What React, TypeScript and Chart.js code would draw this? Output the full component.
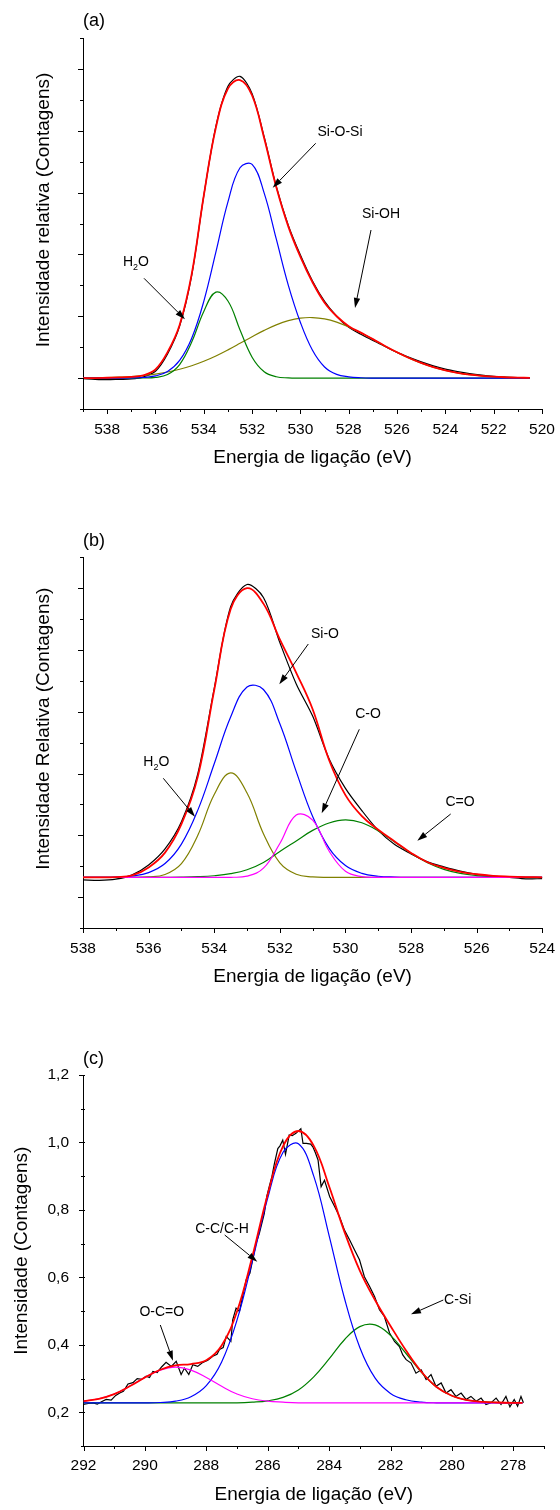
import React, { useEffect, useRef } from "react";
import { Chart, registerables } from "chart.js";

Chart.register(...registerables);

const FONT = "'Liberation Sans', Arial, Helvetica, sans-serif";

const RED = "#ff0000";
const BLUE = "#0000ff";
const GREEN = "#008000";
const OLIVE = "#808000";
const MAGENTA = "#ff00ff";
const BLACK = "#000000";

// ---------------- Panel (a) ----------------
const aEnergy = [539, 538.5, 538, 537.5, 537, 536.5, 536, 535.5, 535, 534.5, 534, 533.5, 533, 532.5, 532, 531.5, 531, 530.5, 530, 529.5, 529, 528.5, 528, 527.5, 527, 526.5, 526, 525.5, 525, 524.5, 524, 523.5, 523, 522.5, 522, 521.5, 521, 520.5];
const aMeasured = [-0.01, -0.02, -0.025, -0.02, -0.015, 0.02, 0.11, 0.39, 0.84, 1.66, 2.95, 4.07, 4.72, 4.88, 4.6, 3.9, 3.1, 2.47, 1.99, 1.57, 1.24, 1.0, 0.82, 0.71, 0.61, 0.51, 0.415, 0.335, 0.262, 0.198, 0.145, 0.105, 0.072, 0.047, 0.028, 0.016, 0.009, 0.004];
const aEnvelope = [0.0, 0.0, 0.005, 0.01, 0.02, 0.045, 0.14, 0.42, 0.86, 1.68, 2.95, 4.05, 4.68, 4.82, 4.57, 3.88, 3.09, 2.45, 1.96, 1.55, 1.22, 1.0, 0.84, 0.735, 0.63, 0.52, 0.418, 0.325, 0.245, 0.177, 0.125, 0.085, 0.056, 0.036, 0.022, 0.013, 0.007, 0.004];
const aSiOSi = [0, 0, 0, 0, 0.002, 0.009, 0.035, 0.107, 0.285, 0.644, 1.241, 2.037, 2.851, 3.401, 3.455, 2.992, 2.25, 1.5, 0.9, 0.45, 0.18, 0.06, 0.02, 0.005, 0, 0, 0, 0, 0, 0, 0, 0, 0, 0, 0, 0, 0, 0];
const aH2O = [0, 0, 0, 0, 0, 0.001, 0.01, 0.057, 0.218, 0.582, 1.078, 1.39, 1.246, 0.778, 0.338, 0.102, 0.021, 0.003, 0, 0, 0, 0, 0, 0, 0, 0, 0, 0, 0, 0, 0, 0, 0, 0, 0, 0, 0, 0];
const aSiOH = [0.003, 0.005, 0.009, 0.016, 0.026, 0.042, 0.065, 0.098, 0.143, 0.2, 0.272, 0.358, 0.456, 0.562, 0.67, 0.772, 0.861, 0.929, 0.97, 0.979, 0.957, 0.905, 0.827, 0.732, 0.627, 0.519, 0.416, 0.323, 0.242, 0.175, 0.123, 0.084, 0.055, 0.035, 0.021, 0.013, 0.007, 0.004];
const aXTicks = [538, 536, 534, 532, 530, 528, 526, 524, 522, 520];
const aXMinor = [539, 537, 535, 533, 531, 529, 527, 525, 523, 521];

// ---------------- Panel (b) ----------------
const bEnergy = [538, 537.5, 537, 536.5, 536, 535.5, 535, 534.5, 534, 533.5, 533, 532.5, 532, 531.5, 531, 530.5, 530, 529.5, 529, 528.5, 528, 527.5, 527, 526.5, 526, 525.5, 525, 524.5, 524];
const bMeasured = [0.28, 0.27, 0.29, 0.36, 0.52, 0.78, 1.22, 2.0, 3.38, 4.7, 5.06, 4.85, 4.12, 3.45, 2.93, 2.24, 1.76, 1.4, 1.08, 0.85, 0.7, 0.57, 0.49, 0.42, 0.37, 0.34, 0.32, 0.295, 0.3];
const bEnvelope = [0.32, 0.32, 0.325, 0.35, 0.48, 0.72, 1.18, 1.95, 3.35, 4.66, 5.0, 4.75, 4.17, 3.63, 3.04, 2.22, 1.65, 1.31, 1.09, 0.9, 0.715, 0.565, 0.475, 0.41, 0.37, 0.345, 0.333, 0.325, 0.32];
const bSiO = [0.32, 0.321, 0.325, 0.342, 0.397, 0.543, 0.858, 1.408, 2.158, 2.914, 3.4, 3.36, 2.805, 2.031, 1.305, 0.793, 0.51, 0.384, 0.338, 0.324, 0.32, 0.32, 0.32, 0.32, 0.32, 0.32, 0.32, 0.32, 0.32];
const bH2O = [0.32, 0.32, 0.32, 0.32, 0.326, 0.367, 0.543, 1.002, 1.661, 2.01, 1.685, 1.027, 0.555, 0.37, 0.327, 0.32, 0.32, 0.32, 0.32, 0.32, 0.32, 0.32, 0.32, 0.32, 0.32, 0.32, 0.32, 0.32, 0.32];
const bCO = [0.32, 0.32, 0.32, 0.32, 0.32, 0.32, 0.32, 0.32, 0.32, 0.321, 0.34, 0.468, 0.867, 1.328, 1.247, 0.746, 0.418, 0.331, 0.32, 0.32, 0.32, 0.32, 0.32, 0.32, 0.32, 0.32, 0.32, 0.32, 0.32];
const bCdO = [0.32, 0.32, 0.32, 0.32, 0.32, 0.321, 0.323, 0.33, 0.346, 0.379, 0.442, 0.56, 0.74, 0.91, 1.08, 1.2, 1.25, 1.204, 1.071, 0.892, 0.709, 0.557, 0.449, 0.383, 0.348, 0.331, 0.324, 0.321, 0.32];
const bXTicks = [538, 536, 534, 532, 530, 528, 526, 524];
const bXMinor = [537, 535, 533, 531, 529, 527, 525];

const abYMajor = [0, 1, 2, 3, 4, 5];
const abYMinor = [-0.5, 0.5, 1.5, 2.5, 3.5, 4.5, 5.5];

// ---------------- Panel (c) ----------------
const cEnergy = [292, 291.5, 291, 290.5, 290, 289.5, 289, 288.5, 288, 287.5, 287, 286.5, 286, 285.5, 285, 284.5, 284, 283.5, 283, 282.5, 282, 281.5, 281, 280.5, 280, 279.5, 279, 278.5, 278, 277.7];
const cEnvelope = [0.233, 0.24, 0.254, 0.277, 0.303, 0.326, 0.339, 0.343, 0.354, 0.398, 0.499, 0.662, 0.846, 0.989, 1.034, 0.99, 0.87, 0.735, 0.62, 0.532, 0.456, 0.384, 0.321, 0.275, 0.249, 0.236, 0.231, 0.229, 0.228, 0.228];
const cCC = [0.228, 0.228, 0.228, 0.228, 0.228, 0.229, 0.233, 0.246, 0.279, 0.349, 0.473, 0.648, 0.835, 0.971, 0.996, 0.9, 0.724, 0.538, 0.392, 0.301, 0.256, 0.237, 0.23, 0.228, 0.228, 0.228, 0.228, 0.228, 0.228, 0.228];
const cCSi = [0.228, 0.228, 0.228, 0.228, 0.228, 0.228, 0.228, 0.228, 0.228, 0.228, 0.228, 0.23, 0.234, 0.244, 0.266, 0.305, 0.358, 0.415, 0.454, 0.459, 0.428, 0.375, 0.319, 0.275, 0.249, 0.236, 0.231, 0.229, 0.228, 0.228];
const cOCO = [0.233, 0.24, 0.254, 0.277, 0.303, 0.325, 0.334, 0.325, 0.303, 0.277, 0.254, 0.24, 0.233, 0.23, 0.228, 0.228, 0.228, 0.228, 0.228, 0.228, 0.228, 0.228, 0.228, 0.228, 0.228, 0.228, 0.228, 0.228, 0.228, 0.228];
const cMeasuredEnergy = [292.0, 291.85, 291.69, 291.55, 291.4, 291.26, 291.1, 290.95, 290.82, 290.7, 290.55, 290.39, 290.25, 290.1, 289.96, 289.85, 289.74, 289.6, 289.45, 289.31, 289.14, 288.98, 288.82, 288.71, 288.57, 288.44, 288.28, 288.11, 287.95, 287.79, 287.65, 287.57, 287.45, 287.35, 287.2, 287.14, 287.03, 286.92, 286.8, 286.7, 286.58, 286.49, 286.38, 286.27, 286.11, 286.03, 285.95, 285.86, 285.78, 285.67, 285.6, 285.51, 285.42, 285.3, 285.2, 285.08, 284.92, 284.85, 284.74, 284.6, 284.53, 284.45, 284.36, 284.26, 284.15, 283.98, 283.82, 283.66, 283.5, 283.33, 283.17, 283.01, 282.85, 282.68, 282.52, 282.36, 282.2, 282.03, 281.87, 281.71, 281.6, 281.49, 281.33, 281.17, 281.0, 280.84, 280.68, 280.52, 280.35, 280.19, 280.03, 279.87, 279.7, 279.54, 279.38, 279.21, 279.05, 278.89, 278.73, 278.56, 278.4, 278.24, 278.11, 277.97, 277.86, 277.75, 277.67];
const cMeasured = [0.223, 0.226, 0.228, 0.224, 0.232, 0.238, 0.236, 0.25, 0.257, 0.262, 0.284, 0.288, 0.3, 0.298, 0.307, 0.303, 0.321, 0.318, 0.335, 0.348, 0.336, 0.351, 0.312, 0.331, 0.312, 0.341, 0.336, 0.348, 0.354, 0.366, 0.372, 0.386, 0.392, 0.425, 0.41, 0.474, 0.509, 0.499, 0.55, 0.593, 0.612, 0.652, 0.7, 0.731, 0.79, 0.84, 0.869, 0.9, 0.938, 0.982, 0.99, 1.007, 0.965, 1.022, 1.02, 1.027, 1.041, 0.997, 0.997, 0.995, 0.987, 0.97, 0.948, 0.869, 0.888, 0.839, 0.81, 0.78, 0.74, 0.711, 0.681, 0.652, 0.602, 0.573, 0.543, 0.504, 0.484, 0.435, 0.41, 0.395, 0.37, 0.356, 0.346, 0.316, 0.326, 0.297, 0.312, 0.277, 0.287, 0.257, 0.267, 0.247, 0.257, 0.238, 0.247, 0.233, 0.242, 0.223, 0.228, 0.242, 0.223, 0.247, 0.216, 0.238, 0.218, 0.247, 0.228];
const cXTicks = [292, 290, 288, 286, 284, 282, 280, 278];
const cXMinor = [291, 289, 287, 285, 283, 281, 279, 277];
const cYTicks = [0.2, 0.4, 0.6, 0.8, 1.0, 1.2];
const cYTickLabels = ["0,2", "0,4", "0,6", "0,8", "1,0", "1,2"];
const cYMinor = [0.1, 0.3, 0.5, 0.7, 0.9, 1.1];

// ---------------- drawing helpers ----------------
type Ann = { text: string; x: number; y: number; arrow: [number, number, number, number] };

function series(xs: number[], ys: number[], color: string, width: number, order: number, tension: number) {
  return {
    data: xs.map((x, i) => ({ x, y: ys[i] })),
    borderColor: color,
    backgroundColor: color,
    borderWidth: width,
    pointRadius: 0,
    fill: false,
    tension,
    order,
  };
}

const decorPlugin = {
  id: "decor",
  afterDraw(chart: any, _args: any, o: any) {
    const ctx = chart.ctx as CanvasRenderingContext2D;
    const ca = chart.chartArea;
    const xs = chart.scales.x;
    const ys = chart.scales.y;
    ctx.save();
    ctx.strokeStyle = BLACK;
    ctx.fillStyle = BLACK;
    ctx.lineWidth = 1;
    ctx.beginPath();
    const bx = Math.round(ca.bottom);
    const lx = Math.round(ca.left);
    const tk = (vals: number[], len: number, horiz: boolean) => {
      for (const v of vals) {
        if (horiz) {
          const p = Math.round(xs.getPixelForValue(v)) + 0.5;
          ctx.moveTo(p, bx);
          ctx.lineTo(p, bx + len);
        } else {
          const p = Math.round(ys.getPixelForValue(v)) + 0.5;
          ctx.moveTo(lx + 1, p);
          ctx.lineTo(lx - len, p);
        }
      }
    };
    tk(o.xMajor, 5, true);
    tk(o.xMinor, 3, true);
    tk(o.yMajor, 5, false);
    tk(o.yMinor, 3, false);
    ctx.stroke();

    // annotations
    ctx.textBaseline = "middle";
    for (const a of o.anns as Ann[]) {
      const size = 14;
      if (a.text === "H2O") {
        ctx.font = `${size}px ${FONT}`;
        const wH = ctx.measureText("H").width;
        const wO = ctx.measureText("O").width;
        ctx.font = `${size * 0.64}px ${FONT}`;
        const w2 = ctx.measureText("2").width;
        const total = wH + w2 + wO;
        const x0 = a.x - total / 2;
        ctx.textAlign = "left";
        ctx.font = `${size}px ${FONT}`;
        ctx.fillText("H", x0, a.y);
        ctx.font = `${size * 0.64}px ${FONT}`;
        ctx.fillText("2", x0 + wH, a.y + 5);
        ctx.font = `${size}px ${FONT}`;
        ctx.fillText("O", x0 + wH + w2, a.y);
      } else {
        ctx.font = `${size}px ${FONT}`;
        ctx.textAlign = "center";
        ctx.fillText(a.text, a.x, a.y);
      }
      const [x1, y1, x2, y2] = a.arrow;
      const ang = Math.atan2(y2 - y1, x2 - x1);
      const hl = 10;
      const hw = 3.2;
      const bxp = x2 - hl * Math.cos(ang);
      const byp = y2 - hl * Math.sin(ang);
      ctx.beginPath();
      ctx.moveTo(x1, y1);
      ctx.lineTo(bxp, byp);
      ctx.lineWidth = 1;
      ctx.stroke();
      ctx.beginPath();
      ctx.moveTo(x2, y2);
      ctx.lineTo(bxp + hw * Math.sin(ang), byp - hw * Math.cos(ang));
      ctx.lineTo(bxp - hw * Math.sin(ang), byp + hw * Math.cos(ang));
      ctx.closePath();
      ctx.fill();
    }

    // panel tag
    ctx.font = `18px ${FONT}`;
    ctx.textAlign = "left";
    ctx.fillText(o.tag, o.tagX, o.tagY);

    // y-axis title
    ctx.save();
    ctx.translate(o.yTitleX, o.yTitleY);
    ctx.rotate(-Math.PI / 2);
    ctx.font = `19px ${FONT}`;
    ctx.textAlign = "center";
    ctx.fillText(o.yTitle, 0, 0);
    ctx.restore();

    ctx.restore();
  },
};

type Spec = {
  height: number;
  padTop: number;
  padRight: number;
  yWidth: number;
  xHeight: number;
  xMin: number;
  xMax: number;
  yMin: number;
  yMax: number;
  xTicks: number[];
  yTicks?: number[];
  yTickLabels?: string[];
  xTickPad: number;
  yTickPad: number;
  xTitlePad: number;
  decor: any;
  datasets: any[];
};

function makeConfig(s: Spec): any {
  const showY = !!s.yTicks;
  return {
    type: "line",
    data: { datasets: s.datasets },
    plugins: [decorPlugin],
    options: {
      animation: false,
      responsive: false,
      devicePixelRatio: 1,
      events: [],
      layout: { padding: { left: 0, right: s.padRight, top: s.padTop, bottom: 0 } },
      plugins: {
        legend: { display: false },
        tooltip: { enabled: false },
        title: { display: false },
        decor: s.decor,
      },
      scales: {
        x: {
          type: "linear",
          min: s.xMin,
          max: s.xMax,
          reverse: true,
          grid: { display: false },
          border: { display: true, color: BLACK, width: 1 },
          afterBuildTicks: (sc: any) => {
            sc.ticks = s.xTicks.map((v) => ({ value: v }));
          },
          afterFit: (sc: any) => {
            sc.height = s.xHeight;
          },
          ticks: {
            color: BLACK,
            autoSkip: false,
            maxRotation: 0,
            minRotation: 0,
            padding: s.xTickPad,
            font: { family: FONT, size: 15.5 },
            callback: (v: any) => String(v),
          },
          title: {
            display: true,
            text: "Energia de ligação (eV)",
            color: BLACK,
            font: { family: FONT, size: 19 },
            padding: { top: 0, bottom: s.xTitlePad },
          },
        },
        y: {
          type: "linear",
          min: s.yMin,
          max: s.yMax,
          grid: { display: false },
          border: { display: true, color: BLACK, width: 1 },
          afterBuildTicks: (sc: any) => {
            if (s.yTicks) sc.ticks = s.yTicks.map((v) => ({ value: v }));
          },
          afterFit: (sc: any) => {
            sc.width = s.yWidth;
          },
          ticks: {
            display: showY,
            color: BLACK,
            padding: s.yTickPad,
            autoSkip: false,
            font: { family: FONT, size: 15.5 },
            callback: (_v: any, i: number) => (s.yTickLabels ? s.yTickLabels[i] : ""),
          },
        },
      },
    },
  };
}

const specA: Spec = {
  height: 495,
  padTop: 38,
  padRight: 18,
  yWidth: 83,
  xHeight: 86,
  xMin: 520,
  xMax: 539,
  yMin: -0.5,
  yMax: 5.5,
  xTicks: aXTicks,
  xTickPad: 3.2,
  yTickPad: 6.5,
  xTitlePad: 25.9,
  decor: {
    xMajor: aXTicks,
    xMinor: aXMinor,
    yMajor: abYMajor,
    yMinor: abYMinor,
    tag: "(a)",
    tagX: 83,
    tagY: 21,
    yTitle: "Intensidade relativa (Contagens)",
    yTitleX: 44,
    yTitleY: 210,
    anns: [
      { text: "Si-O-Si", x: 340, y: 132, arrow: [315.7, 143.3, 272.7, 187.7] },
      { text: "Si-OH", x: 381, y: 214, arrow: [371, 230, 355, 308] },
      { text: "H2O", x: 136, y: 262.5, arrow: [144, 278.3, 185, 319.3] },
    ],
  },
  datasets: [
    series(aEnergy, aEnvelope, RED, 1.8, 0, 0.4),
    series(aEnergy, aSiOSi, BLUE, 1.2, 1, 0.4),
    series(aEnergy, aH2O, GREEN, 1.2, 2, 0.4),
    series(aEnergy, aSiOH, OLIVE, 1.2, 3, 0.4),
    series(aEnergy, aMeasured, BLACK, 1.2, 4, 0.3),
  ],
};

const specB: Spec = {
  height: 505,
  padTop: 62.3,
  padRight: 17.7,
  yWidth: 83,
  xHeight: 72,
  xMin: 524,
  xMax: 538,
  yMin: -0.5,
  yMax: 5.5,
  xTicks: bXTicks,
  xTickPad: 3.2,
  yTickPad: 6.5,
  xTitlePad: 11.9,
  decor: {
    xMajor: bXTicks,
    xMinor: bXMinor,
    yMajor: abYMajor,
    yMinor: abYMinor,
    tag: "(b)",
    tagX: 83,
    tagY: 46,
    yTitle: "Intensidade Relativa (Contagens)",
    yTitleX: 43.5,
    yTitleY: 233.7,
    anns: [
      { text: "Si-O", x: 325, y: 139, arrow: [308.3, 149, 279.3, 189.3] },
      { text: "C-O", x: 368, y: 219, arrow: [359.3, 234.3, 321.7, 318.3] },
      { text: "C=O", x: 460, y: 307.5, arrow: [450.7, 319, 417.3, 345.7] },
      { text: "H2O", x: 156.3, y: 267.5, arrow: [163.3, 283.3, 195, 321.7] },
    ],
  },
  datasets: [
    series(bEnergy, bEnvelope, RED, 1.8, 0, 0.4),
    series(bEnergy, bCO, MAGENTA, 1.2, 1, 0.4),
    series(bEnergy, bSiO, BLUE, 1.2, 2, 0.4),
    series(bEnergy, bCdO, GREEN, 1.2, 3, 0.4),
    series(bEnergy, bH2O, OLIVE, 1.2, 4, 0.4),
    series(bEnergy, bMeasured, BLACK, 1.2, 5, 0.3),
  ],
};

const specC: Spec = {
  height: 510,
  padTop: 75,
  padRight: 16,
  yWidth: 83.5,
  xHeight: 64,
  xMin: 277,
  xMax: 292,
  yMin: 0.1,
  yMax: 1.2,
  xTicks: cXTicks,
  yTicks: cYTicks,
  yTickLabels: cYTickLabels,
  xTickPad: 2.2,
  yTickPad: 6.5,
  xTitlePad: 3.6,
  decor: {
    xMajor: cXTicks,
    xMinor: cXMinor,
    yMajor: cYTicks,
    yMinor: cYMinor,
    tag: "(c)",
    tagX: 83,
    tagY: 59,
    yTitle: "Intensidade (Contagens)",
    yTitleX: 22,
    yTitleY: 250.7,
    anns: [
      { text: "C-C/C-H", x: 222, y: 229, arrow: [224.7, 235, 257.3, 261.7] },
      { text: "O-C=O", x: 161.8, y: 311.7, arrow: [160.3, 325, 173, 360.7] },
      { text: "C-Si", x: 457.7, y: 299.7, arrow: [443.3, 300, 411, 314.3] },
    ],
  },
  datasets: [
    series(cEnergy, cEnvelope, RED, 1.8, 0, 0.4),
    series(cEnergy, cOCO, MAGENTA, 1.2, 1, 0.4),
    series(cEnergy, cCC, BLUE, 1.2, 2, 0.4),
    series(cEnergy, cCSi, GREEN, 1.2, 3, 0.4),
    series(cMeasuredEnergy, cMeasured, BLACK, 1.2, 4, 0),
  ],
};

function Panel({ top, spec }: { top: number; spec: Spec }) {
  const ref = useRef<HTMLCanvasElement>(null);
  useEffect(() => {
    if (!ref.current) return;
    const chart = new Chart(ref.current, makeConfig(spec));
    return () => chart.destroy();
  }, [spec]);
  return (
    <canvas
      ref={ref}
      width={560}
      height={spec.height}
      style={{ position: "absolute", left: 0, top, width: 560, height: spec.height, display: "block" }}
    />
  );
}

export default function App() {
  return (
    <div style={{ position: "absolute", left: 0, top: 0, width: 560, height: 1510, background: "#ffffff" }}>
      <Panel top={0} spec={specA} />
      <Panel top={495} spec={specB} />
      <Panel top={1000} spec={specC} />
    </div>
  );
}
